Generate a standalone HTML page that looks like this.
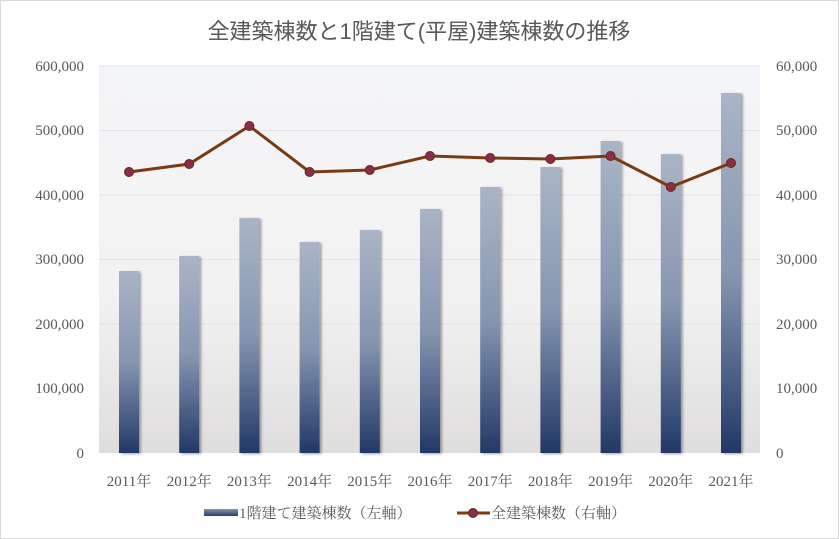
<!DOCTYPE html>
<html><head><meta charset="utf-8"><style>
body{margin:0;background:#fff;}
svg{display:block;font-family:"Liberation Serif","Noto Serif CJK SC","Noto Sans CJK JP",serif;}
</style></head><body>
<svg width="839" height="539" viewBox="0 0 839 539" xmlns="http://www.w3.org/2000/svg">
<defs>
<linearGradient id="bg" x1="0" y1="0" x2="0" y2="1">
<stop offset="0" stop-color="#f4f5f8"/><stop offset="0.6" stop-color="#f3f2f2"/><stop offset="1" stop-color="#dfdddd"/></linearGradient>
<linearGradient id="bar" x1="0" y1="0" x2="0" y2="1">
<stop offset="0" stop-color="#aab4c6"/><stop offset="0.5" stop-color="#8696b1"/><stop offset="1" stop-color="#213866"/></linearGradient>
<linearGradient id="leg" x1="0" y1="0" x2="0" y2="1">
<stop offset="0" stop-color="#8595b0"/><stop offset="1" stop-color="#2a3f6a"/></linearGradient>
<filter id="sh" x="-20%" y="-5%" width="150%" height="110%"><feDropShadow dx="2" dy="1" stdDeviation="1.2" flood-color="#000" flood-opacity="0.35"/></filter>
</defs>
<rect x="0.5" y="0.5" width="838" height="538" fill="#fff" stroke="#d9d9d9"/>
<text x="419" y="39" text-anchor="middle" font-size="22" fill="#595959" font-family="'Liberation Sans','Noto Sans CJK JP',sans-serif">全建築棟数と1階建て(平屋)建築棟数の推移</text>
<rect x="99" y="66" width="661" height="387" fill="url(#bg)"/>
<g stroke="#e2e2e8" stroke-width="1">
<line x1="99" y1="66" x2="760" y2="66"/><line x1="99" y1="130.5" x2="760" y2="130.5"/>
<line x1="99" y1="195" x2="760" y2="195"/><line x1="99" y1="259.5" x2="760" y2="259.5"/>
<line x1="99" y1="324" x2="760" y2="324"/><line x1="99" y1="388.5" x2="760" y2="388.5"/>
</g>
<g font-size="15" fill="#595959" text-anchor="end">
<text x="84" y="71">600,000</text><text x="84" y="135">500,000</text><text x="84" y="200">400,000</text>
<text x="84" y="264">300,000</text><text x="84" y="329">200,000</text><text x="84" y="393">100,000</text><text x="84" y="458">0</text>
</g>
<g font-size="15" fill="#595959" text-anchor="start">
<text x="776" y="71">60,000</text><text x="776" y="135">50,000</text><text x="776" y="200">40,000</text>
<text x="776" y="264">30,000</text><text x="776" y="329">20,000</text><text x="776" y="393">10,000</text><text x="776" y="458">0</text>
</g>
<g fill="url(#bar)" filter="url(#sh)">
<rect x="119" y="271" width="20" height="182"/>
<rect x="179.2" y="256" width="20" height="197"/>
<rect x="239.4" y="218" width="20" height="235"/>
<rect x="299.6" y="242" width="20" height="211"/>
<rect x="359.8" y="230" width="20" height="223"/>
<rect x="420" y="209" width="20" height="244"/>
<rect x="480.2" y="187" width="20" height="266"/>
<rect x="540.4" y="167" width="20" height="286"/>
<rect x="600.6" y="141" width="20" height="312"/>
<rect x="660.8" y="154" width="20" height="299"/>
<rect x="721" y="93" width="20" height="360"/>
</g>
<polyline points="129,172 189.2,164 249.4,126 309.6,172 369.8,170 430,156 490.2,158 550.4,159 610.6,156 670.8,187 731,163" fill="none" stroke="#7a3b12" stroke-width="3"/>
<g fill="#8b2c4a" stroke="#6a2a10" stroke-width="1">
<circle cx="129" cy="172" r="4.5"/><circle cx="189.2" cy="164" r="4.5"/><circle cx="249.4" cy="126" r="4.5"/>
<circle cx="309.6" cy="172" r="4.5"/><circle cx="369.8" cy="170" r="4.5"/><circle cx="430" cy="156" r="4.5"/>
<circle cx="490.2" cy="158" r="4.5"/><circle cx="550.4" cy="159" r="4.5"/><circle cx="610.6" cy="156" r="4.5"/>
<circle cx="670.8" cy="187" r="4.5"/><circle cx="731" cy="163" r="4.5"/>
</g>
<g font-size="15" fill="#595959" text-anchor="middle">
<text x="129" y="486">2011年</text><text x="189.2" y="486">2012年</text><text x="249.4" y="486">2013年</text>
<text x="309.6" y="486">2014年</text><text x="369.8" y="486">2015年</text><text x="430" y="486">2016年</text>
<text x="490.2" y="486">2017年</text><text x="550.4" y="486">2018年</text><text x="610.6" y="486">2019年</text>
<text x="670.8" y="486">2020年</text><text x="731" y="486">2021年</text>
</g>
<rect x="204" y="509" width="34" height="7" fill="url(#leg)"/>
<text x="239" y="518" font-size="15" fill="#595959">1階建て建築棟数（左軸）</text>
<line x1="457" y1="513" x2="490" y2="513" stroke="#7a3b12" stroke-width="3"/>
<circle cx="473" cy="513" r="4.5" fill="#8b2c4a" stroke="#6a2a10"/>
<text x="491" y="518" font-size="15" fill="#595959">全建築棟数（右軸）</text>
</svg>
</body></html>
